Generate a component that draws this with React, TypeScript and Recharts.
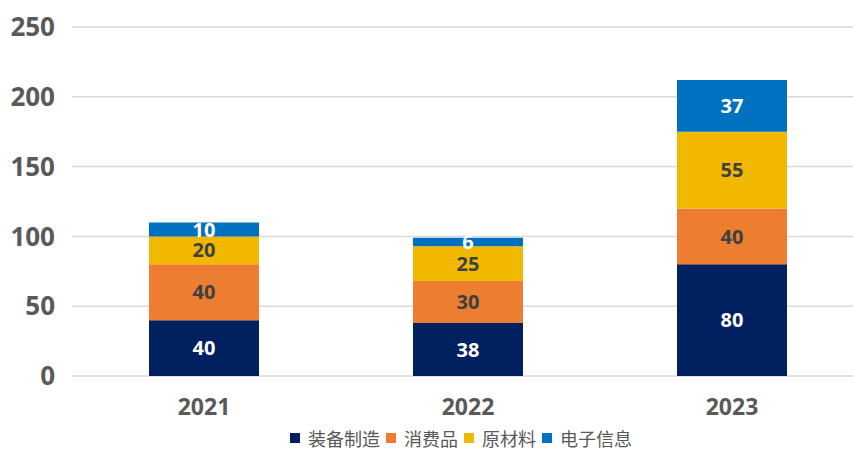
import { Bar, BarChart, CartesianGrid, LabelList, Legend, XAxis, YAxis } from "recharts";

const years = ["2021", "2022", "2023"];
const equipment = [40, 38, 80];
const consumer = [40, 30, 40];
const materials = [20, 25, 55];
const electronics = [10, 6, 37];
const yTicks = [0, 50, 100, 150, 200, 250];

const series = [
  { key: "equipment", name: "装备制造", color: "#002060", label: "#ffffff" },
  { key: "consumer", name: "消费品", color: "#ED7D31", label: "#404040" },
  { key: "materials", name: "原材料", color: "#F2B800", label: "#404040" },
  { key: "electronics", name: "电子信息", color: "#0070C0", label: "#ffffff" },
];

const data = years.map((y, i) => ({
  year: y,
  equipment: equipment[i],
  consumer: consumer[i],
  materials: materials[i],
  electronics: electronics[i],
}));

const numFont = "'Open Sans', 'DejaVu Sans', sans-serif";

function LegendBox() {
  return (
    <div
      style={{
        height: 24,
        display: "flex",
        justifyContent: "center",
        alignItems: "center",
        paddingLeft: 64,
        fontFamily: "'Noto Sans CJK SC', sans-serif",
        fontSize: 18,
        color: "#595959",
      }}
    >
      {series.map((s) => (
        <div key={s.key} style={{ display: "flex", alignItems: "center", marginRight: 6 }}>
          <span style={{ width: 10, height: 10, background: s.color, marginRight: 8, display: "inline-block" }} />
          <span style={{ lineHeight: "24px" }}>{s.name}</span>
        </div>
      ))}
    </div>
  );
}

export default function App() {
  return (
    <div style={{ position: "absolute", left: 0, top: 0, width: 853, height: 450, overflow: "hidden", background: "#fff" }}>
      <BarChart width={864} height={450} data={data} margin={{ top: 27, right: 0, left: 0, bottom: 0 }}>
        <CartesianGrid vertical={false} stroke="#D9D9D9" strokeWidth={1.5} />
        <XAxis
          dataKey="year"
          axisLine={false}
          tickLine={false}
          tickSize={0}
          tickMargin={23}
          height={50}
          tick={{ fontSize: 23, fontWeight: 700, fill: "#595959", fontFamily: numFont }}
        />
        <YAxis
          domain={[0, 250]}
          ticks={yTicks}
          width={72}
          axisLine={false}
          tickLine={false}
          tickSize={0}
          tickMargin={17}
          tick={{ fontSize: 26, fontWeight: 700, fill: "#595959", fontFamily: numFont }}
        />
        <Legend verticalAlign="bottom" content={() => <LegendBox />} />
        {series.map((s) => (
          <Bar key={s.key} dataKey={s.key} name={s.name} stackId="a" fill={s.color} barSize={110} isAnimationActive={false}>
            <LabelList
              dataKey={s.key}
              position="center"
              fill={s.label}
              style={{ fontSize: 20, fontWeight: 700, fontFamily: numFont }}
            />
          </Bar>
        ))}
      </BarChart>
    </div>
  );
}
